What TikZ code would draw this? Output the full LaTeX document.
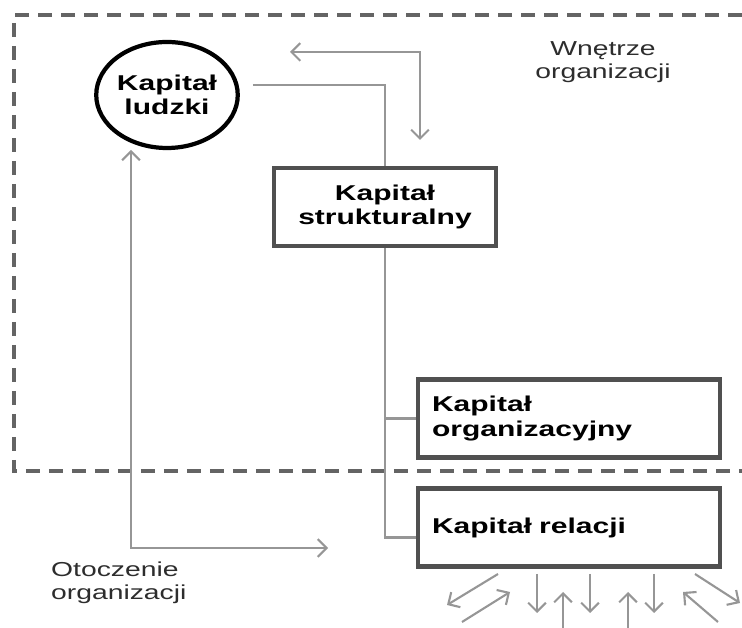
\documentclass[tikz,border=0pt]{standalone}
\usepackage{fontspec}
\setmainfont{Liberation Sans}[FakeStretch=1.4]
\usepackage{tikz}
\usetikzlibrary{arrows.meta,shapes,positioning,calc}
\definecolor{kpdark}{RGB}{80,80,80}
\definecolor{kpline}{RGB}{150,150,150}
\definecolor{kpdash}{RGB}{100,100,100}
\definecolor{kptext}{RGB}{45,45,45}
\tikzstyle{arrow} = [line width=1.2pt,->,>={Straight Barb[length=5pt,width=10pt]},color=kpline]
\tikzstyle{link} = [line width=1.2pt,color=kpline]
\tikzstyle{capbox} = [rectangle, draw=kpdark, line width=2.3pt, minimum width=4.44cm, minimum height=1.56cm, align=center, font=\fontsize{12.2}{14}\selectfont\bfseries]
\tikzstyle{sidebox} = [capbox, minimum width=6.04cm, text width=5.48cm, inner xsep=0.28cm, align=left]
\tikzstyle{region} = [align=center, text=kptext, font=\fontsize{11.5}{13}\selectfont]

\begin{document}
\begin{tikzpicture}
\useasboundingbox (0,0) rectangle (14.84,12.56);
% Organization border
\draw[kpdash, line width=2.4pt, dash pattern=on 0.28cm off 0.18cm] (14.84,12.26) -- (0.28,12.26) -- (0.28,3.14) -- (14.84,3.14);

% Capital nodes
\node[ellipse, draw=black, line width=2.4pt, inner sep=0pt, minimum width=2.8cm, minimum height=2.12cm, align=center, font=\fontsize{12.2}{14}\selectfont\bfseries] (ludzki) at (3.34,10.66) {Kapitał\\ludzki};
\node[capbox] (strukt) at (7.7,8.42) {Kapitał\\strukturalny};
\node[sidebox] (org) at (11.38,4.19) {Kapitał\\organizacyjny};
\node[sidebox] (rel) at (11.38,2.01) {Kapitał relacji};

% Region labels
\node[region] (wnetrze) at (12.06,11.32) {Wnętrze\\organizacji};
\node[region, anchor=west, align=left] (otoczenie) at (0.9,0.9) {Otoczenie\\organizacji};

% Connectors
\draw[link] ([xshift=0.26cm,yshift=0.2cm]ludzki.east) -| (strukt.north);
\coordinate (fbL) at (5.8,11.52);
\coordinate (fbD) at (8.4,9.76);
\draw[arrow,<->] (fbL) -| (fbD);
\draw[link] (strukt.south) |- ([yshift=-0.2cm]rel.west);
\draw[link] (strukt.south |- org.west) -- (org.west);
\coordinate (lu) at (2.62,9.56);
\coordinate (lr) at (6.56,1.6);
\draw[arrow,<->] (lu) |- (lr);

% Exchange with the environment
\foreach \xa/\ya/\xb/\yb in {9.96/1.08/8.94/0.46, 9.24/0.12/10.2/0.72, 10.74/1.08/10.74/0.3, 11.26/0/11.26/0.72, 11.8/1.08/11.8/0.3, 12.56/0/12.56/0.72, 13.08/1.08/13.08/0.3, 14.36/0.12/13.66/0.72, 13.9/1.08/14.8/0.5}
  \draw[arrow] (\xa,\ya) -- (\xb,\yb);
\end{tikzpicture}
\end{document}
